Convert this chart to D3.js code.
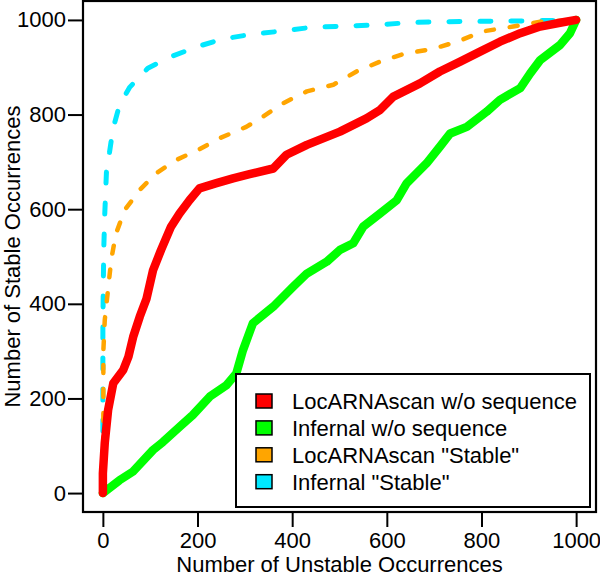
<!DOCTYPE html>
<html><head><meta charset="utf-8">
<script src="https://cdn.jsdelivr.net/npm/d3@7"></script>
<style>html,body{margin:0;padding:0;background:#fff;} svg{display:block;font-family:"Liberation Sans",Arial,sans-serif;}</style>
</head><body>
<svg id="c" width="600" height="577"></svg>
<script>
const seriesNames = ['LocARNAscan w/o sequence','Infernal w/o sequence','LocARNAscan "Stable"','Infernal "Stable"'];
const seriesColors = ['#ff0000','#00ff00','#ffa500','#00e8ff'];
const xTicks = [0,200,400,600,800,1000];
const yTicks = [0,200,400,600,800,1000];

const redX = [0,0,4,11,22,43,54,64,78,92,106,123,144,162,183,204,240,275,310,360,388,431,501,557,586,614,670,712,755,797,839,882,924,966,1000];
const redY = [0,42,106,175,232,260,288,330,373,410,471,514,563,591,619,644,655,665,674,686,715,736,764,792,810,838,866,891,912,933,954,972,986,994,1000];

const greenX = [0,35,63,106,127,162,190,226,261,282,296,317,360,402,431,473,501,529,550,586,621,642,684,712,734,769,811,839,882,903,924,966,987,1000];
const greenY = [0,27,45,91,108,140,165,204,228,253,302,359,394,436,464,489,514,528,563,591,619,655,697,732,760,774,806,831,856,887,915,947,972,1000];

const orangeX = [0,1,1,4,10,18,28,46,78,113,155,201,247,303,339,381,431,487,536,586,635,698,748,804,867,924,1000];
const orangeY = [0,150,300,366,422,496,549,598,641,676,704,725,750,774,796,824,849,863,891,912,928,939,954,976,986,996,1000];

const cyanX = [0,0,1,2,4,8,14,21,35,57,95,148,198,250,310,374,438,508,571,642,698,800,900,1000];
const cyanY = [0,350,450,520,590,690,720,768,820,858,898,924,943,959,969,976,984,987,989,994,996,997,998,1000];

const xs = [redX, greenX, orangeX, cyanX];
const ys = [redY, greenY, orangeY, cyanY];

const svg = d3.select('#c');
const x = d3.scaleLinear().domain([-42,1042]).range([83,596]);
const y = d3.scaleLinear().domain([-40,1040]).range([512,1]);

const styles = [
  {w:8.5, dash:null},
  {w:8.5, dash:null},
  {w:4.5, dash:'8,16'},
  {w:5, dash:'11,20'}
];

const line = d3.line().x(d=>x(d[0])).y(d=>y(d[1]));
const plot = svg.append('g');
[3,2,1,0].forEach(i=>{
  const pts = xs[i].map((v,k)=>[v, ys[i][k]]);
  plot.append('path').attr('d', line(pts)).attr('fill','none')
    .attr('stroke', seriesColors[i]).attr('stroke-width', styles[i].w)
    .attr('stroke-linejoin','round').attr('stroke-linecap','round')
    .attr('stroke-dasharray', styles[i].dash);
});

// frame
svg.append('rect').attr('x',83).attr('y',1).attr('width',513).attr('height',511)
  .attr('fill','none').attr('stroke','#000').attr('stroke-width',2.2);

const fmt = d3.format('d');
const xAxis = svg.append('g').attr('transform','translate(0,512)')
  .call(d3.axisBottom(x).tickValues(xTicks).tickFormat(fmt).tickSize(15).tickSizeOuter(0).tickPadding(5));
const yAxis = svg.append('g').attr('transform','translate(83,0)')
  .call(d3.axisLeft(y).tickValues(yTicks).tickFormat(fmt).tickSize(15).tickSizeOuter(0).tickPadding(2));
[xAxis,yAxis].forEach(a=>{
  a.select('.domain').remove();
  a.selectAll('line').attr('stroke','#000').attr('stroke-width',2);
  a.selectAll('text').attr('fill','#000').style('font-size','22px').style('font-family','"Liberation Sans",Arial,sans-serif');
});

svg.append('text').attr('x',(x(0)+x(1000))/2+0).attr('y',572).attr('text-anchor','middle')
  .style('font-size','22px').text('Number of Unstable Occurrences');
svg.append('text').attr('transform',`translate(19.5,${(y(0)+y(1000))/2}) rotate(-90)`).attr('text-anchor','middle')
  .style('font-size','22px').text('Number of Stable Occurrences');

// legend
const lg = svg.append('g');
lg.append('rect').attr('x',236).attr('y',374).attr('width',354).attr('height',133)
  .attr('fill','#fff').attr('stroke','#000').attr('stroke-width',2);
seriesNames.forEach((n,i)=>{
  const cy = 401 + i*26.9;
  lg.append('rect').attr('x',256).attr('y',cy-7).attr('width',16).attr('height',14)
    .attr('fill',seriesColors[i]).attr('stroke','#000').attr('stroke-width',1.5);
  lg.append('text').attr('x',292).attr('y',cy+8).style('font-size','22px').text(n);
});
</script>
</body></html>
